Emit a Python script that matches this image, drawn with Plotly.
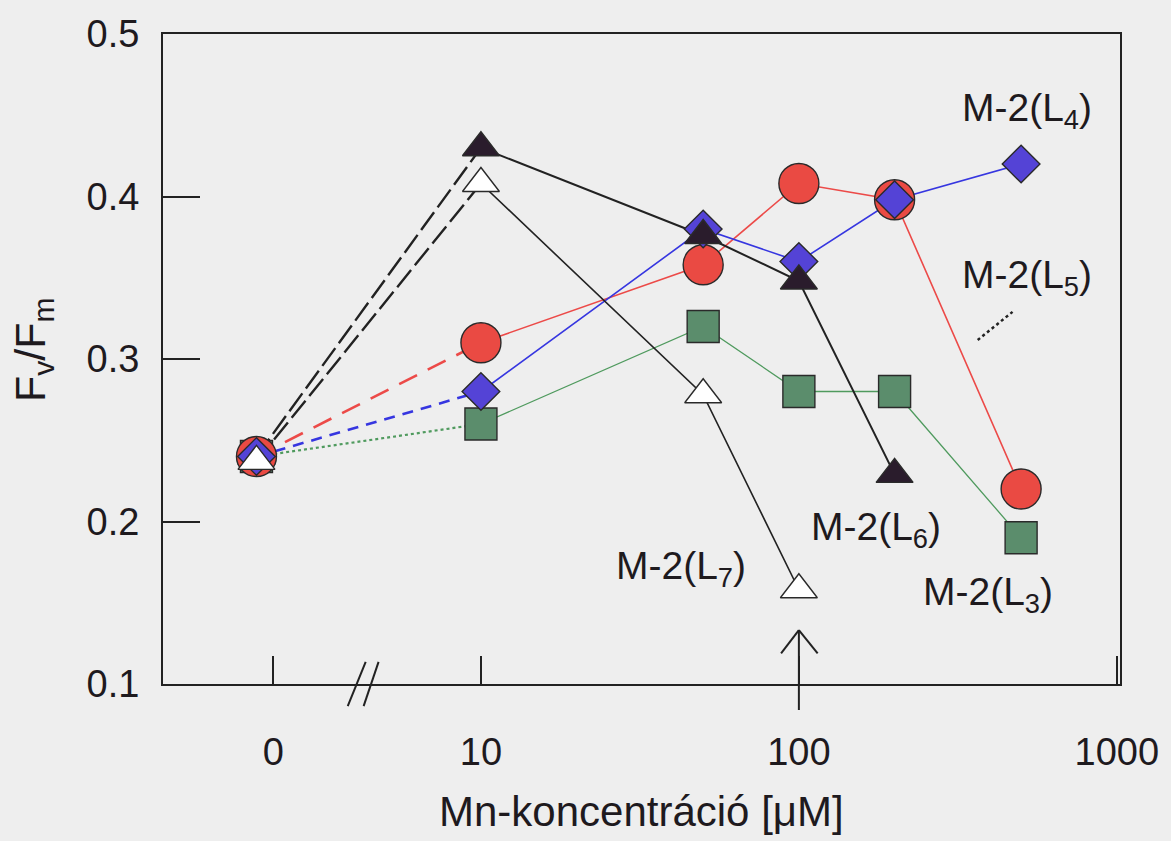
import math
import plotly.graph_objects as go

# ---------------- data ----------------
conc = [0, 10, 50, 100, 200, 500]          # Mn concentration (µM)
L3 = [0.24, 0.26, 0.32, 0.28, 0.28, 0.19]  # green squares
L5 = [0.24, 0.31, 0.358, 0.408, 0.398, 0.22]  # red circles
L4 = [0.24, 0.28, 0.38, 0.36, 0.398, 0.42]  # blue diamonds
L6 = [0.24, 0.43, 0.376, 0.348, 0.229]      # black triangles
L7 = [0.237, 0.408, 0.278, 0.158]           # open triangles

x_tick_labels = ["0", "10", "100", "1000"]
y_ticks = [0.1, 0.2, 0.3, 0.4, 0.5]

# broken log axis: zero is placed left of the break
ZERO_POS = 0.294
ZERO_TICK = 0.347


def xpos(c):
    return ZERO_POS if c == 0 else math.log10(c)


FONT = "Liberation Sans, Arial, sans-serif"
TXT = "#1e1a1e"
series = {
    "L3": dict(y=L3, symbol="square", size=32, fill="#5b8d6c", line="#4f9a5e", lw=1.3, dash="dot", dw=2.2),
    "L5": dict(y=L5, symbol="circle", size=40, fill="#ea4a43", line="#ec4a48", lw=1.6, dash="20px,12px", dw=2.6),
    "L4": dict(y=L4, symbol="diamond", size=29, fill="#5443d6", line="#3636e0", lw=1.6, dash="11px,8px", dw=2.6),
    "L7": dict(y=L7, symbol="triangle-up", size=32, fill="#ffffff", line="#222222", lw=1.6, dash="22px,6px", dw=2.4),
    "L6": dict(y=L6, symbol="triangle-up", size=32, fill="#2a1c2c", line="#222222", lw=2.0, dash="22px,6px", dw=2.4),
}

fig = go.Figure()

# dashed segments 0 -> 10 and solid segments from 10 on
for k, s in series.items():
    ys = s["y"]
    xs = [xpos(c) for c in conc[:len(ys)]]
    fig.add_trace(go.Scatter(x=xs[:2], y=ys[:2], mode="lines",
                             line=dict(color=s["line"], width=s["dw"], dash=s["dash"]),
                             showlegend=False, hoverinfo="skip"))
    fig.add_trace(go.Scatter(x=xs[1:], y=ys[1:], mode="lines",
                             line=dict(color=s["line"], width=s["lw"]),
                             showlegend=False, hoverinfo="skip"))

# zero markers
for k in ["L6", "L3", "L5", "L4", "L7"]:
    s = series[k]
    fig.add_trace(go.Scatter(x=[xpos(conc[0])], y=s["y"][:1], mode="markers",
                             marker=dict(symbol=s["symbol"], size=s["size"], color=s["fill"],
                                         line=dict(color="#2a2a2a", width=1.4)),
                             showlegend=False))
# other markers
for k in ["L3", "L5", "L4", "L7", "L6"]:
    s = series[k]
    ys = s["y"]
    xs = [xpos(c) for c in conc[:len(ys)]]
    fig.add_trace(go.Scatter(x=xs[1:], y=ys[1:], mode="markers",
                             marker=dict(symbol=s["symbol"], size=s["size"], color=s["fill"],
                                         line=dict(color="#2a2a2a", width=1.4)),
                             showlegend=False))

# labels
labels = [
    ("M-2(L<sub>4</sub>)", 2.716, 0.453),
    ("M-2(L<sub>5</sub>)", 2.716, 0.350),
    ("M-2(L<sub>6</sub>)", 2.241, 0.195),
    ("M-2(L<sub>7</sub>)", 1.628, 0.171),
    ("M-2(L<sub>3</sub>)", 2.594, 0.155),
]
for t, x, y in labels:
    fig.add_annotation(x=x, y=y, xref="x", yref="y", text=t, showarrow=False,
                       font=dict(family=FONT, size=39, color=TXT))

# dotted line near L5 label
fig.add_shape(type="line", xref="x", yref="y", x0=2.5625, y0=0.3117, x1=2.672, y1=0.329,
              line=dict(color="#222", width=2.5, dash="dot"))

# axis break marks
for x0, x1 in [(0.581, 0.6375), (0.631, 0.678)]:
    fig.add_shape(type="line", xref="x", yref="paper", x0=x0, y0=-0.034, x1=x1, y1=0.034,
                  line=dict(color="#222", width=2))

# arrow at 100 µM
fig.add_shape(type="line", xref="x", yref="paper", x0=2.0, y0=-0.04, x1=2.0, y1=0.083,
              line=dict(color="#222", width=2))
fig.add_shape(type="line", xref="x", yref="paper", x0=1.944, y0=0.047, x1=2.0, y1=0.083,
              line=dict(color="#222", width=2))
fig.add_shape(type="line", xref="x", yref="paper", x0=2.059, y0=0.047, x1=2.0, y1=0.083,
              line=dict(color="#222", width=2))

# axis titles
fig.add_annotation(xref="paper", yref="paper", x=0.5, y=-0.196, yanchor="middle",
                   text="Mn-koncentráció [μM]", showarrow=False,
                   font=dict(family=FONT, size=42, color=TXT))
fig.add_annotation(xref="paper", yref="paper", x=-0.136, y=0.515, xanchor="center",
                   yanchor="middle", textangle=-90,
                   text="F<sub>v</sub>/F<sub>m</sub>", showarrow=False,
                   font=dict(family=FONT, size=43, color=TXT))

fig.update_layout(
    width=1171, height=841,
    margin=dict(l=163, r=45, t=34, b=157),
    paper_bgcolor="#eeeeee", plot_bgcolor="#eeeeee",
    showlegend=False,
    xaxis=dict(range=[0, 3.01], tickvals=[ZERO_TICK, 1, 2, 3], ticktext=x_tick_labels,
               ticks="inside", ticklen=28, tickwidth=2, tickcolor="#222",
               showline=True, linecolor="#222", linewidth=2, mirror=True,
               showgrid=False, zeroline=False, ticklabelstandoff=33,
               tickfont=dict(family=FONT, size=38, color=TXT)),
    yaxis=dict(range=[0.1, 0.5], tickvals=y_ticks, ticktext=[f"{v:.1f}" for v in y_ticks],
               ticks="inside", ticklen=37, tickwidth=2, tickcolor="#222",
               showline=True, linecolor="#222", linewidth=2, mirror=True,
               showgrid=False, zeroline=False, ticklabelstandoff=14,
               tickfont=dict(family=FONT, size=38, color=TXT)),
)

fig.write_html("out.html")
